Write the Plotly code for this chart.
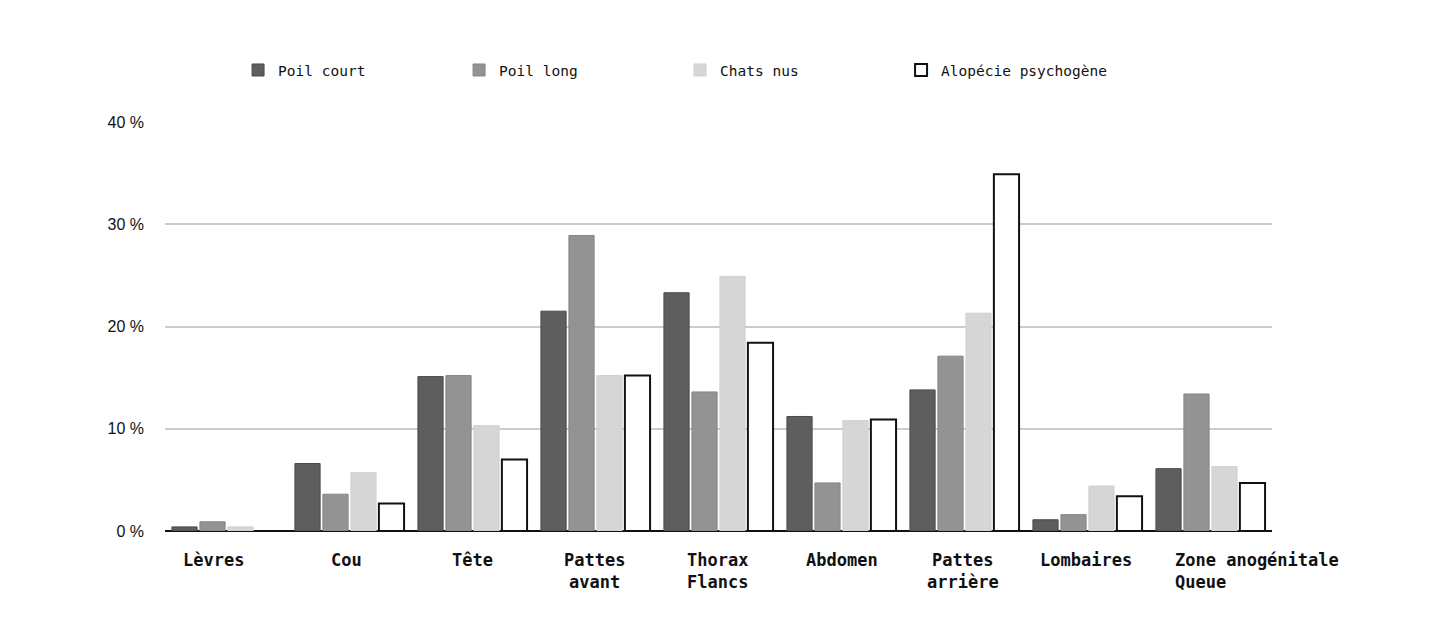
import plotly.graph_objects as go

# zones du corps (axe x)
zones = ["Lèvres", "Cou", "Tête", "Pattes<br>avant", "Thorax<br>Flancs",
         "Abdomen", "Pattes<br>arrière", "Lombaires", "Zone anogénitale<br>Queue"]

# pourcentages
poil_court = [0.4, 6.6, 15.1, 21.5, 23.3, 11.2, 13.8, 1.1, 6.1]
poil_long = [0.9, 3.6, 15.2, 28.9, 13.6, 4.7, 17.1, 1.6, 13.4]
chats_nus = [0.4, 5.7, 10.3, 15.2, 24.9, 10.8, 21.3, 4.4, 6.3]
alopecie = [0, 2.7, 7.0, 15.2, 18.4, 10.9, 34.9, 3.4, 4.7]

y_ticks = [0, 10, 20, 30, 40]
y_labels = ["0 %", "10 %", "20 %", "30 %", "40 %"]

fig = go.Figure()
fig.add_trace(go.Bar(x=zones, y=poil_court, name="Poil court",
                     marker=dict(color="#5e5e5e", line=dict(color="#4a4a4a", width=1))))
fig.add_trace(go.Bar(x=zones, y=poil_long, name="Poil long",
                     marker=dict(color="#939393", line=dict(color="#858585", width=1))))
fig.add_trace(go.Bar(x=zones, y=chats_nus, name="Chats nus",
                     marker=dict(color="#d6d6d6", line=dict(color="#d0d0d0", width=1))))
fig.add_trace(go.Bar(x=zones, y=alopecie, name="Alopécie psychogène",
                     marker=dict(color="#ffffff", line=dict(color="#111111", width=2))))

# etiquettes de l'axe x placees a la main (alignement comme l'original)
shifts = [-13, -3, 0, -1, -1, 0, -2, -2, -38]
for i, z in enumerate(zones):
    last = i == len(zones) - 1
    fig.add_annotation(x=z, y=-0.042, xref="x", yref="paper", text=z,
                       showarrow=False, yanchor="top",
                       xanchor="left" if last else "center",
                       align="left" if last else "center",
                       xshift=shifts[i],
                       font=dict(family="DejaVu Sans Mono", size=17, color="#111111",
                                 weight="bold"))

# la page a une marge de 8 px (body), on la compense ici
fig.update_layout(
    width=1437, height=636,
    margin=dict(l=157, r=173, t=114, b=113),
    paper_bgcolor="white", plot_bgcolor="white",
    barmode="group", bargap=0.09, bargroupgap=0.1,
    showlegend=True,
    legend=dict(orientation="h", x=0.066, y=1.127, xanchor="left", yanchor="middle",
                entrywidth=176, entrywidthmode="pixels",
                font=dict(family="DejaVu Sans Mono", size=14.5, color="#111111")),
    xaxis=dict(range=[-0.5, 8.5], showticklabels=False, showgrid=False,
               showline=False, ticks=""),
    yaxis=dict(range=[0, 40], tickvals=y_ticks, ticktext=y_labels,
               showgrid=True, gridcolor="#cccccc", gridwidth=1.5,
               zeroline=True, zerolinecolor="#111111", zerolinewidth=2,
               ticks="", ticklabelstandoff=20,
               tickfont=dict(family="Liberation Sans", size=16, color="#111111")),
)

fig.write_html("out.html")
